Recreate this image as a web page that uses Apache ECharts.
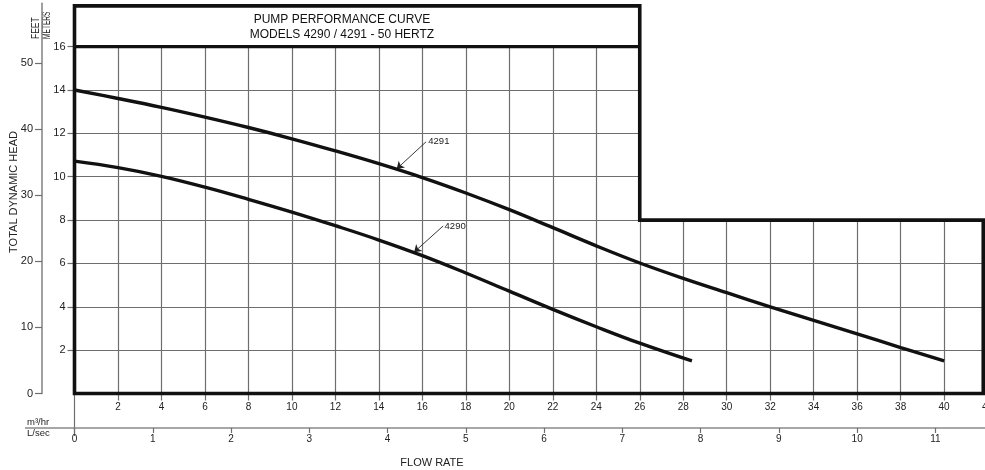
<!DOCTYPE html>
<html><head><meta charset="utf-8">
<script src="https://cdn.jsdelivr.net/npm/echarts@6/dist/echarts.min.js"></script>
<style>html,body{margin:0;padding:0;background:#fff}#c{width:985px;height:470px}</style>
</head><body><div id="c"></div>
<script>
// ---- data ----
const flow4291 = [0,2,4,6,8,10,12,14,16,18,20,22,24,26,28,30,32,34,36,38,40];
const head4291 = [14.0,13.61,13.20,12.75,12.27,11.75,11.19,10.60,9.96,9.25,8.48,7.65,6.81,6.02,5.31,4.65,4.0,3.37,2.75,2.12,1.5];
const flow4290 = [0,2,4,6,8,10,12,14,16,18,20,22,24,26,28.4];
const head4290 = [10.72,10.42,10.02,9.52,8.96,8.37,7.74,7.08,6.36,5.56,4.72,3.88,3.08,2.32,1.5];
const meterTicks = [2,4,6,8,10,12,14,16];
const feetTicks = [0,10,20,30,40,50];
const m3hrTicks = [2,4,6,8,10,12,14,16,18,20,22,24,26,28,30,32,34,36,38,40,42];
const lsecTicks = [0,1,2,3,4,5,6,7,8,9,10,11];
const titleLines = ['PUMP PERFORMANCE CURVE','MODELS 4290 / 4291 - 50 HERTZ'];
const seriesNames = ['4291','4290'];
const yName = 'TOTAL DYNAMIC HEAD';
const xName = 'FLOW RATE';

// ---- layout constants ----
const FONT = '"Liberation Sans", Arial, sans-serif';
const X_MAX = 42, Y_MAX = 18;
const FRAME_TOP = 17.88, TITLE_LINE = 16, STEP_X = 26, STEP_Y = 8, FRAME_RIGHT = 41.8;
const GRID_COLOR = '#6e6e6e';
const AXIS_COLOR = '#8a8a8a';
const G_LEFT = 74.5, G_RIGHT = -2.6, G_TOP = 3.3, G_BOTTOM = 76.5;
const FEET_X = 42, LSEC_Y = 428;

const chart = echarts.init(document.getElementById('c'), null, {renderer: 'canvas'});
const zip = (xs, ys) => xs.map((x, i) => [x, ys[i]]);

// grid lines (segmented, inside the stepped frame)
const gridLines = [];
for (let x = 2; x <= 40; x += 2) {
  const top = x < STEP_X ? TITLE_LINE : STEP_Y;
  gridLines.push([{coord: [x, 0]}, {coord: [x, top]}]);
}
for (let y = 2; y <= 14; y += 2) {
  const right = y < STEP_Y ? FRAME_RIGHT : STEP_X;
  gridLines.push([{coord: [0, y]}, {coord: [right, y]}]);
}

const frame = [[0,FRAME_TOP],[STEP_X,FRAME_TOP],[STEP_X,STEP_Y],[FRAME_RIGHT,STEP_Y],[FRAME_RIGHT,0],[0,0],[0,FRAME_TOP],[2,FRAME_TOP]];
const divider = [[0,TITLE_LINE],[STEP_X,TITLE_LINE]];

const labelStyle = {color: '#222', fontFamily: FONT};
const hidden = {show: false};

const option = {
  animation: false,
  backgroundColor: '#fff',
  grid: [
    {left: G_LEFT, right: G_RIGHT, top: G_TOP, bottom: G_BOTTOM, outerBoundsMode: 'none', containLabel: false},
    {left: FEET_X, width: 10, top: G_TOP, bottom: G_BOTTOM, outerBoundsMode: 'none', containLabel: false},
    {left: G_LEFT, right: G_RIGHT, top: LSEC_Y - 10, bottom: 470 - LSEC_Y, outerBoundsMode: 'none', containLabel: false}
  ],
  xAxis: [
    {
      gridIndex: 0, type: 'value', min: 0, max: X_MAX, position: 'bottom',
      axisLine: hidden,
      axisTick: {show: true, length: 7, customValues: m3hrTicks, lineStyle: {color: GRID_COLOR, width: 1.2}},
      axisLabel: {show: true, customValues: m3hrTicks, margin: 9, fontSize: 10, ...labelStyle},
      splitLine: hidden
    },
    {gridIndex: 1, type: 'value', min: 0, max: 1, show: false},
    {
      gridIndex: 2, type: 'value', min: 0, max: X_MAX / 3.6, position: 'bottom',
      axisLine: {show: true, lineStyle: {color: AXIS_COLOR, width: 1.6}},
      axisTick: {show: true, length: 5, customValues: lsecTicks, lineStyle: {color: GRID_COLOR, width: 1.2}},
      axisLabel: {show: true, customValues: lsecTicks, margin: 6, fontSize: 10, ...labelStyle},
      splitLine: hidden
    }
  ],
  yAxis: [
    {
      gridIndex: 0, type: 'value', min: 0, max: Y_MAX, position: 'left',
      axisLine: hidden,
      axisTick: {show: true, length: 7, customValues: meterTicks, lineStyle: {color: GRID_COLOR, width: 1.2}},
      axisLabel: {show: true, customValues: meterTicks, margin: 9, fontSize: 11, ...labelStyle},
      splitLine: hidden
    },
    {
      gridIndex: 1, type: 'value', min: 0, max: Y_MAX / 0.3048, position: 'left',
      axisLine: {show: true, lineStyle: {color: AXIS_COLOR, width: 1.6}},
      axisTick: {show: true, length: 7, customValues: feetTicks, lineStyle: {color: GRID_COLOR, width: 1.2}},
      axisLabel: {show: true, customValues: feetTicks, margin: 9, fontSize: 11, ...labelStyle},
      splitLine: hidden
    },
    {gridIndex: 2, type: 'value', min: 0, max: 1, show: false}
  ],
  series: [
    {
      type: 'line', data: [], silent: true, xAxisIndex: 0, yAxisIndex: 0,
      markLine: {
        silent: true, symbol: ['none','none'], animation: false,
        label: {show: false},
        lineStyle: {color: GRID_COLOR, width: 1.2, type: 'solid'},
        emphasis: {disabled: true},
        data: gridLines
      }
    },
    {
      type: 'line', data: frame, clip: false, silent: true, symbol: 'none', z: 5,
      lineStyle: {color: '#111', width: 3.6, join: 'miter', cap: 'square'}
    },
    {
      type: 'line', data: divider, clip: false, silent: true, symbol: 'none', z: 5,
      lineStyle: {color: '#111', width: 3.4, cap: 'butt'}
    },
    {
      name: seriesNames[0], type: 'line', data: zip(flow4291, head4291), smooth: 0.4,
      symbol: 'none', z: 6, lineStyle: {color: '#111', width: 3.4, cap: 'butt'},
      markLine: {
        silent: true, animation: false, label: {show: false},
        lineStyle: {color: '#222', width: 0.9, type: 'solid'},
        data: [[{coord: [16.17, 11.61], symbol: 'none'}, {coord: [14.82, 10.36], symbol: 'arrow', symbolSize: 7}]]
      },
      markPoint: {
        silent: true, animation: false, symbol: 'circle', symbolSize: 1,
        itemStyle: {color: 'rgba(0,0,0,0)'},
        label: {show: true, position: 'right', distance: 0, fontSize: 9.5, ...labelStyle, formatter: seriesNames[0]},
        data: [{coord: [16.25, 11.65]}]
      }
    },
    {
      name: seriesNames[1], type: 'line', data: zip(flow4290, head4290), smooth: 0.4,
      symbol: 'none', z: 6, lineStyle: {color: '#111', width: 3.4, cap: 'butt'},
      markLine: {
        silent: true, animation: false, label: {show: false},
        lineStyle: {color: '#222', width: 0.9, type: 'solid'},
        data: [[{coord: [16.96, 7.73], symbol: 'none'}, {coord: [15.62, 6.52], symbol: 'arrow', symbolSize: 7}]]
      },
      markPoint: {
        silent: true, animation: false, symbol: 'circle', symbolSize: 1,
        itemStyle: {color: 'rgba(0,0,0,0)'},
        label: {show: true, position: 'right', distance: 0, fontSize: 9.5, ...labelStyle, formatter: seriesNames[1]},
        data: [{coord: [17.0, 7.72]}]
      }
    }
  ]
};

chart.setOption(option);

// decorations positioned from the axes
const px = (x, y) => chart.convertToPixel({xAxisIndex: 0, yAxisIndex: 0}, [x, y]);
const p0 = px(0, 0);
const pTitle = px((0 + STEP_X) / 2 - 0.7, (FRAME_TOP + TITLE_LINE) / 2);

chart.setOption({
  graphic: [
    {type: 'text', x: pTitle[0], y: pTitle[1] - 7, silent: true,
      style: {text: titleLines[0], fill: '#111', font: '12px ' + FONT, textAlign: 'center', textVerticalAlign: 'middle'}},
    {type: 'text', x: pTitle[0], y: pTitle[1] + 8, silent: true,
      style: {text: titleLines[1], fill: '#111', font: '12px ' + FONT, textAlign: 'center', textVerticalAlign: 'middle'}},
    {type: 'text', x: 14, y: 192, rotation: Math.PI / 2, silent: true,
      style: {text: yName, fill: '#222', font: '11px ' + FONT, textAlign: 'center', textVerticalAlign: 'middle'}},
    {type: 'text', x: 36.5, y: 39, rotation: Math.PI / 2, scaleX: 0.85, silent: true,
      style: {text: 'FEET', fill: '#222', font: '10px ' + FONT, textAlign: 'left', textVerticalAlign: 'middle'}},
    {type: 'text', x: 47, y: 39, rotation: Math.PI / 2, scaleX: 0.66, silent: true,
      style: {text: 'METERS', fill: '#222', font: '10px ' + FONT, textAlign: 'left', textVerticalAlign: 'middle'}},
    {type: 'text', x: 27, y: LSEC_Y - 5.5, silent: true,
      style: {text: 'm³/hr', fill: '#222', font: '9.5px ' + FONT, textAlign: 'left', textVerticalAlign: 'middle'}},
    {type: 'text', x: 27, y: LSEC_Y + 5.5, silent: true,
      style: {text: 'L/sec', fill: '#222', font: '9.5px ' + FONT, textAlign: 'left', textVerticalAlign: 'middle'}},
    {type: 'text', x: 432, y: 463, silent: true,
      style: {text: xName, fill: '#222', font: '11px ' + FONT, textAlign: 'center', textVerticalAlign: 'middle'}},
    {type: 'line', silent: true, shape: {x1: 25, y1: LSEC_Y, x2: p0[0], y2: LSEC_Y},
      style: {stroke: AXIS_COLOR, lineWidth: 1.6}},
    {type: 'line', silent: true, shape: {x1: p0[0], y1: p0[1], x2: p0[0], y2: LSEC_Y + 8},
      style: {stroke: GRID_COLOR, lineWidth: 1.2}}
  ]
});
</script>
</body></html>
